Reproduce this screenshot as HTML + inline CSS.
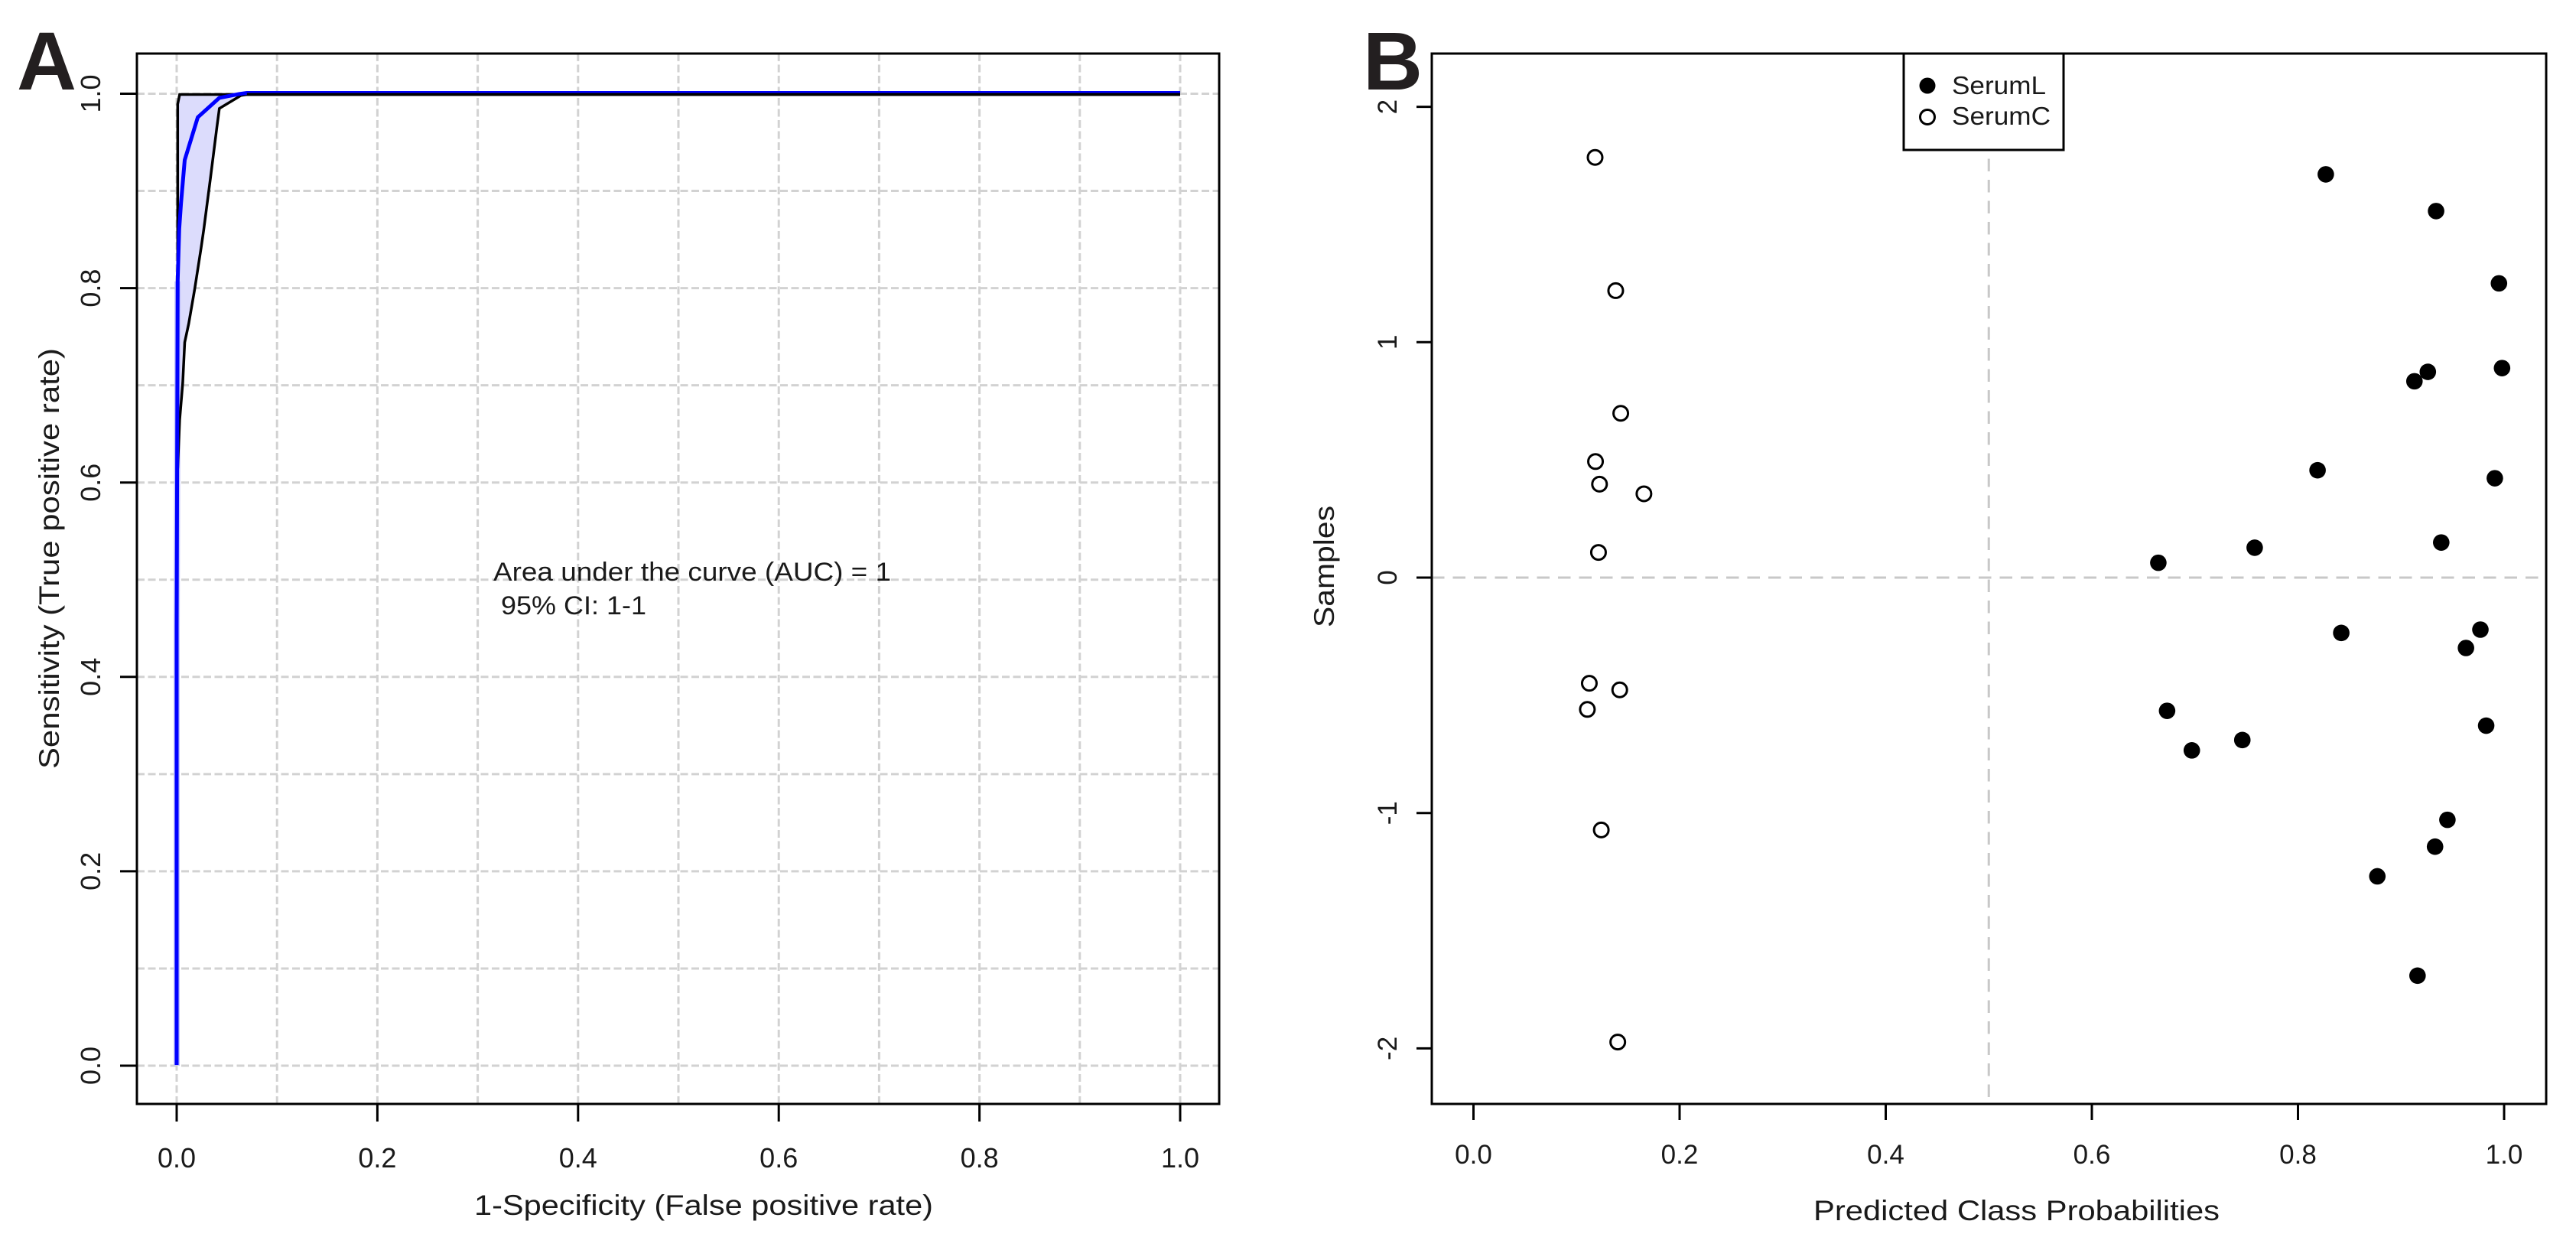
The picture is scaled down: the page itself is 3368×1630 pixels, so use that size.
<!DOCTYPE html>
<html lang="en">
<head>
<meta charset="utf-8">
<title>ROC curve and predicted class probabilities</title>
<style>
html,body{margin:0;padding:0;background:#fff;width:3368px;height:1630px;overflow:hidden}
svg{display:block}
text{font-family:"Liberation Sans",sans-serif;fill:#1a1a1a}
</style>
</head>
<body>
<svg id="fig" xmlns="http://www.w3.org/2000/svg" width="3368" height="1630" viewBox="0 0 3368 1630">
  <rect x="0" y="0" width="3368" height="1630" fill="#fff"/>
  <g id="panelA"></g>
  <g id="panelB"></g>

  <text x="22" y="117" font-size="108" font-weight="bold" style="fill:#231f20">A</text>
  <text x="1782" y="117" font-size="108" font-weight="bold" style="fill:#231f20">B</text>

  <text x="620" y="1588" font-size="37" textLength="600" lengthAdjust="spacingAndGlyphs">1-Specificity (False positive rate)</text>
  <text transform="translate(77,1005) rotate(-90)" font-size="37" textLength="550" lengthAdjust="spacingAndGlyphs">Sensitivity (True positive rate)</text>
  <text x="645" y="759" font-size="34" textLength="520" lengthAdjust="spacingAndGlyphs">Area under the curve (AUC) = 1</text>
  <text x="655" y="803" font-size="34" textLength="190" lengthAdjust="spacingAndGlyphs">95% CI: 1-1</text>

  <text x="2371" y="1595" font-size="37" textLength="531" lengthAdjust="spacingAndGlyphs">Predicted Class Probabilities</text>
  <text transform="translate(1744,820) rotate(-90)" font-size="37" textLength="159" lengthAdjust="spacingAndGlyphs">Samples</text>

  <g id="legend">
    <rect x="2489" y="70" width="209" height="126" fill="#fff" stroke="#000" stroke-width="3"/>
    <circle cx="2520" cy="112" r="10.5" fill="#000"/>
    <circle cx="2520" cy="153" r="9.5" fill="#fff" stroke="#000" stroke-width="3"/>
    <text x="2552" y="123" font-size="33" textLength="123" lengthAdjust="spacingAndGlyphs">SerumL</text>
    <text x="2552" y="163" font-size="33" textLength="129" lengthAdjust="spacingAndGlyphs">SerumC</text>
  </g>
</svg>

<script>
// Panel A: tick and grid values
const rocXTicks = [0, 0.2, 0.4, 0.6, 0.8, 1];
const rocYTicks = [0, 0.2, 0.4, 0.6, 0.8, 1];
const rocTickLabels = ["0.0", "0.2", "0.4", "0.6", "0.8", "1.0"];
const rocGridValues = [0, 0.1, 0.2, 0.3, 0.4, 0.5, 0.6, 0.7, 0.8, 0.9, 1];

// Panel A: ROC curve
const rocFpr = [0, 0, 0.001, 0.0025, 0.0043, 0.008, 0.021, 0.0425, 0.0625, 0.07, 1];
const rocTpr = [0, 0.45, 0.807, 0.86, 0.886, 0.931, 0.975, 0.995, 0.999, 1, 1];

// Panel A: confidence band edges
const upperFpr = [0.001, 0.001, 0.003, 0.07, 1];
const upperTpr = [0.615, 0.99, 1, 1, 1];
const lowerFpr = [0.001, 0.003, 0.006, 0.008, 0.012, 0.018, 0.0244, 0.027, 0.0335, 0.04, 0.0425, 0.064, 0.07, 1];
const lowerTpr = [0.615, 0.665, 0.703, 0.745, 0.764, 0.80, 0.8425, 0.861, 0.913, 0.966, 0.9856, 0.999, 1, 1];

// Panel B: tick values
const probXTicks = [0, 0.2, 0.4, 0.6, 0.8, 1];
const probXTickLabels = ["0.0", "0.2", "0.4", "0.6", "0.8", "1.0"];
const probYTicks = [-2, -1, 0, 1, 2];
const probYTickLabels = ["-2", "-1", "0", "1", "2"];
const probThreshold = 0.5;
const probBaseline = 0;

// Panel B: SerumL samples
const serumLProb = [0.827, 0.934, 0.995, 0.926, 0.913, 0.998, 0.819, 0.991, 0.939, 0.758, 0.6645, 0.842, 0.977, 0.963, 0.9826, 0.673, 0.697, 0.746, 0.945, 0.933, 0.877, 0.916];
const serumLSample = [1.713, 1.557, 1.25, 0.874, 0.834, 0.89, 0.456, 0.422, 0.149, 0.127, 0.063, -0.235, -0.221, -0.299, -0.629, -0.566, -0.734, -0.69, -1.029, -1.143, -1.269, -1.691];

// Panel B: SerumC samples
const serumCProb = [0.118, 0.138, 0.1429, 0.1184, 0.1223, 0.1654, 0.1213, 0.1124, 0.1105, 0.1419, 0.124, 0.14];
const serumCSample = [1.785, 1.219, 0.698, 0.493, 0.397, 0.356, 0.107, -0.449, -0.56, -0.477, -1.072, -1.973];

// Axis functions
const aFrame = {left: 179, right: 1594, top: 70, bottom: 1443};
const bFrame = {left: 1872, right: 3329, top: 70, bottom: 1443};
const ax = v => 231 + v * 1312;
const ay = v => 1393 - v * 1270.5;
const bx = v => 1926.5 + v * 1347.5;
const by = v => 755 - v * 307.7;

const SVG_NS = "http://www.w3.org/2000/svg";
function mk(parent, tag, attrs, txt) {
  const el = document.createElementNS(SVG_NS, tag);
  for (const k in attrs) el.setAttribute(k, attrs[k]);
  if (txt !== undefined) el.textContent = txt;
  parent.appendChild(el);
  return el;
}
function pts(xs, ys, fx, fy) {
  return xs.map((v, i) => fx(v).toFixed(1) + "," + fy(ys[i]).toFixed(1)).join(" ");
}

const A = document.getElementById("panelA");
const B = document.getElementById("panelB");
const GRID = {stroke: "#d2d2d2", "stroke-width": 3, "stroke-dasharray": "10 4.5", fill: "none"};

// ---------- Panel A ----------
rocGridValues.forEach(v => {
  const el = mk(A, "line", Object.assign({x1: ax(v), x2: ax(v), y1: aFrame.top, y2: aFrame.bottom}, GRID));
  
  
});
rocGridValues.forEach(v => {
  const el = mk(A, "line", Object.assign({x1: aFrame.left, x2: aFrame.right, y1: ay(v), y2: ay(v)}, GRID));
  
  
});

const band = mk(A, "polygon", {
  points: pts(upperFpr, upperTpr, ax, ay) + " " + pts(lowerFpr.slice().reverse(), lowerTpr.slice().reverse(), ax, ay),
  fill: "#dcdcfc", stroke: "none"
});



const halo = mk(A, "polyline", {
  points: pts(rocFpr.slice(0, 3), rocTpr.slice(0, 3), ax, ay),
  fill: "none", stroke: "#c4c4fa", "stroke-width": 8
});



const upperEdge = mk(A, "polyline", {
  points: pts(upperFpr, upperTpr, ax, ay), transform: "translate(0,1)",
  fill: "none", stroke: "#000", "stroke-width": 3.5
});



const lowerEdge = mk(A, "polyline", {
  points: pts(lowerFpr, lowerTpr, ax, ay), transform: "translate(0,1)",
  fill: "none", stroke: "#000", "stroke-width": 3.5
});



const rocLine = mk(A, "polyline", {
  points: pts(rocFpr, rocTpr, ax, ay), transform: "translate(0,-1)",
  fill: "none", stroke: "#0000ff", "stroke-width": 5, "stroke-linejoin": "round"
});



const rocTopEdge = mk(A, "polyline", {
  points: pts(upperFpr.slice(3), upperTpr.slice(3), ax, ay), transform: "translate(0,0.8)",
  fill: "none", stroke: "#000", "stroke-width": 3.6
});



const frameA = mk(A, "rect", {x: aFrame.left, y: aFrame.top, width: aFrame.right - aFrame.left, height: aFrame.bottom - aFrame.top, fill: "none", stroke: "#000", "stroke-width": 3});



rocXTicks.forEach((v, i) => {
  const t = mk(A, "line", {x1: ax(v), x2: ax(v), y1: aFrame.bottom, y2: aFrame.bottom + 23, stroke: "#000", "stroke-width": 3});
  
  
  const l = mk(A, "text", {x: ax(v), y: 1526, "text-anchor": "middle", "font-size": 36}, rocTickLabels[i]);
  
  
});
rocYTicks.forEach((v, i) => {
  const t = mk(A, "line", {x1: aFrame.left - 22, x2: aFrame.left, y1: ay(v), y2: ay(v), stroke: "#000", "stroke-width": 3});
  
  
  const l = mk(A, "text", {transform: "translate(131," + ay(v) + ") rotate(-90)", "text-anchor": "middle", "font-size": 36}, rocTickLabels[i]);
  
  
});

// ---------- Panel B ----------
const GRID_B = {stroke: "#c8c8c8", "stroke-width": 3, "stroke-dasharray": "16.5 11", fill: "none"};
const vRef = mk(B, "line", Object.assign({x1: bx(probThreshold), x2: bx(probThreshold), y1: bFrame.top, y2: bFrame.bottom}, GRID_B));


const hRef = mk(B, "line", Object.assign({x1: bFrame.left, x2: bFrame.right, y1: by(probBaseline), y2: by(probBaseline)}, GRID_B));



const frameB = mk(B, "rect", {x: bFrame.left, y: bFrame.top, width: bFrame.right - bFrame.left, height: bFrame.bottom - bFrame.top, fill: "none", stroke: "#000", "stroke-width": 3});



probXTicks.forEach((v, i) => {
  const t = mk(B, "line", {x1: bx(v), x2: bx(v), y1: bFrame.bottom, y2: bFrame.bottom + 21, stroke: "#000", "stroke-width": 3});
  
  
  const l = mk(B, "text", {x: bx(v), y: 1521, "text-anchor": "middle", "font-size": 35}, probXTickLabels[i]);
  
  
});
probYTicks.forEach((v, i) => {
  const t = mk(B, "line", {x1: bFrame.left - 20, x2: bFrame.left, y1: by(v), y2: by(v), stroke: "#000", "stroke-width": 3});
  
  
  const l = mk(B, "text", {transform: "translate(1826," + by(v) + ") rotate(-90)", "text-anchor": "middle", "font-size": 35}, probYTickLabels[i]);
  
  
});

serumLProb.forEach((v, i) => {
  const c = mk(B, "circle", {cx: bx(v), cy: by(serumLSample[i]), r: 10.8, fill: "#000"});
  
  
});
serumCProb.forEach((v, i) => {
  const c = mk(B, "circle", {cx: bx(v), cy: by(serumCSample[i]), r: 9.5, fill: "#fff", stroke: "#000", "stroke-width": 3});
  
  
});
</script>
</body>
</html>
